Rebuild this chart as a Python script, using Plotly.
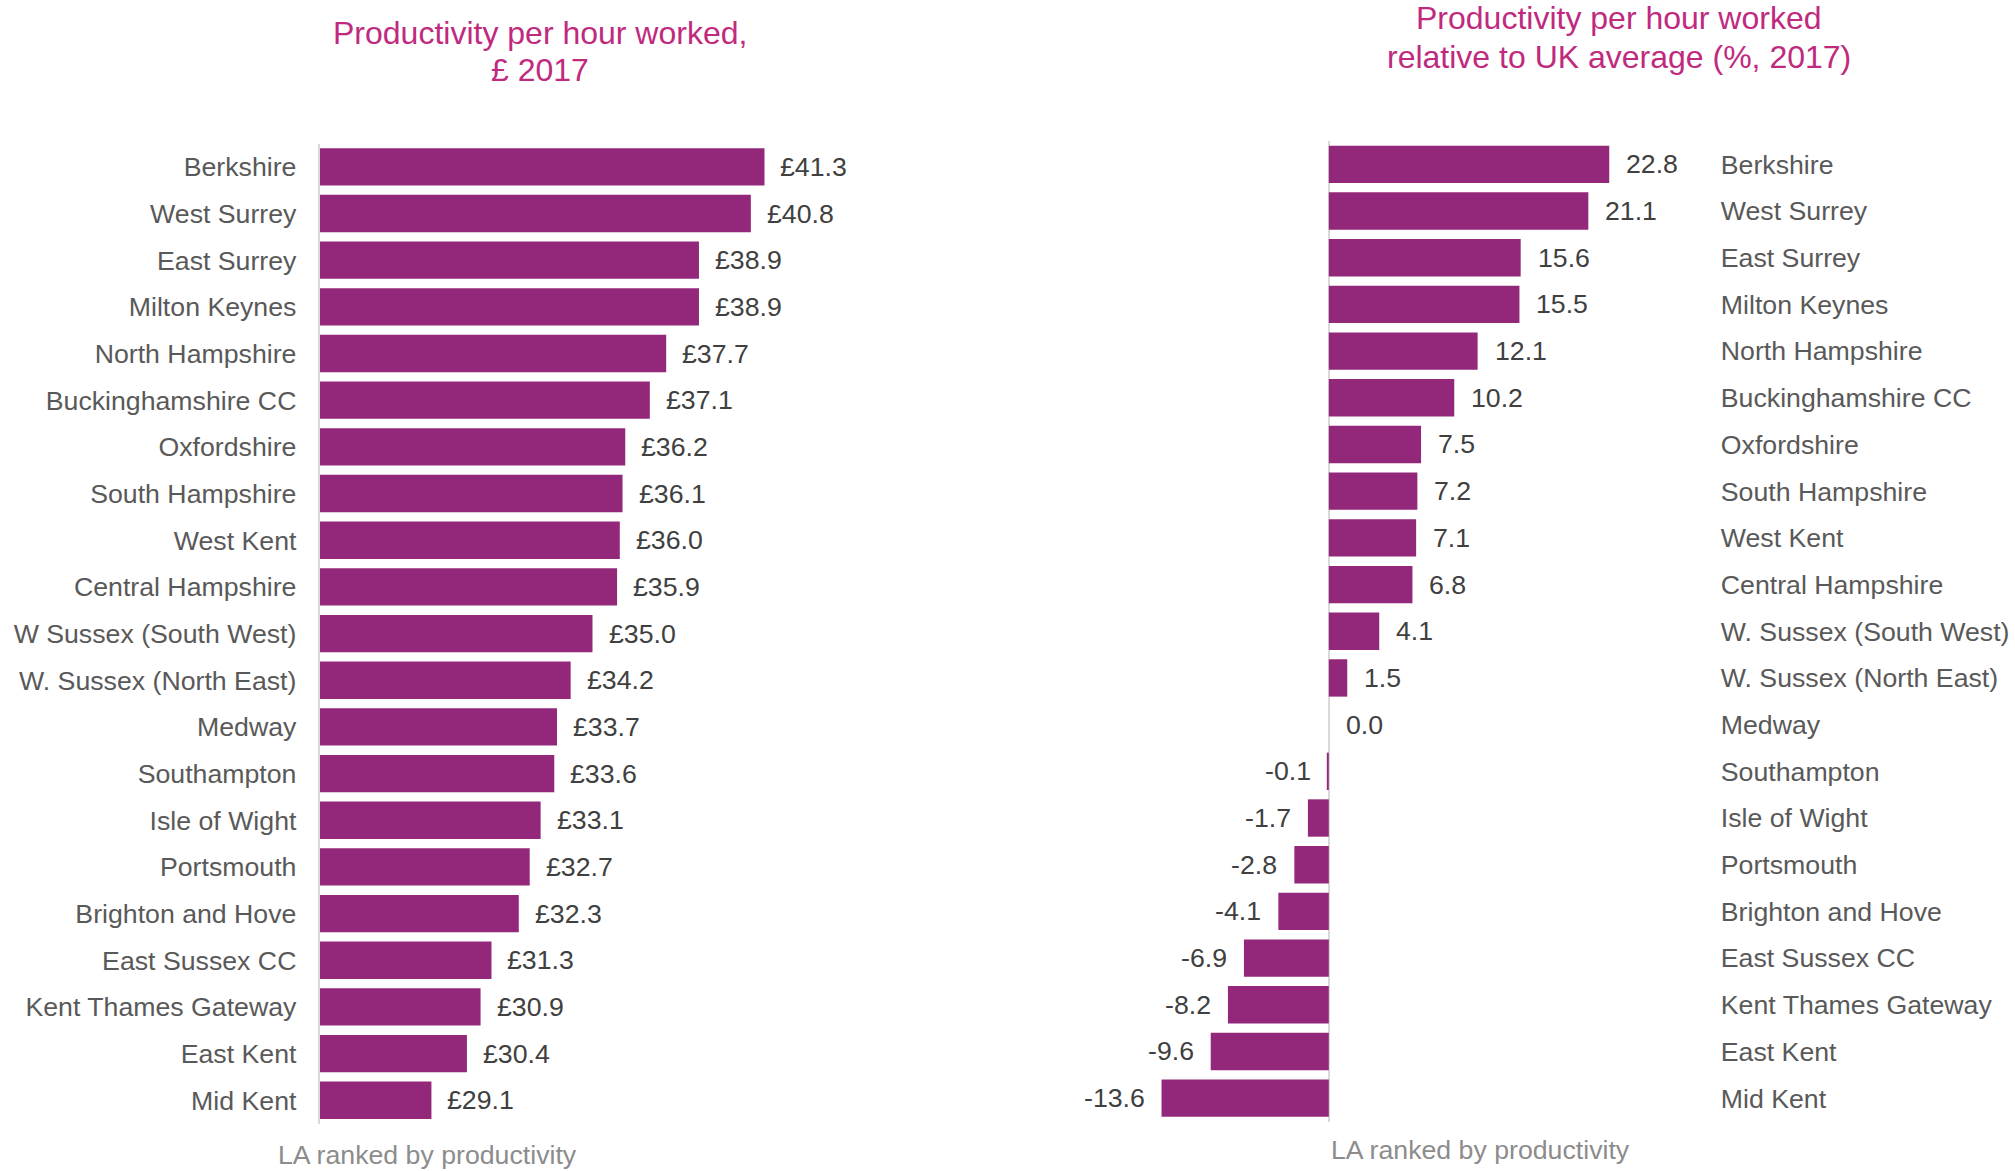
import plotly.graph_objects as go

categories_left = ["Berkshire", "West Surrey", "East Surrey", "Milton Keynes", "North Hampshire",
                   "Buckinghamshire CC", "Oxfordshire", "South Hampshire", "West Kent", "Central Hampshire",
                   "W Sussex (South West)", "W. Sussex (North East)", "Medway", "Southampton", "Isle of Wight",
                   "Portsmouth", "Brighton and Hove", "East Sussex CC", "Kent Thames Gateway", "East Kent", "Mid Kent"]
productivity = [41.3, 40.8, 38.9, 38.9, 37.7, 37.1, 36.2, 36.1, 36.0, 35.9, 35.0, 34.2, 33.7, 33.6, 33.1,
                32.7, 32.3, 31.3, 30.9, 30.4, 29.1]

categories_right = ["Berkshire", "West Surrey", "East Surrey", "Milton Keynes", "North Hampshire",
                    "Buckinghamshire CC", "Oxfordshire", "South Hampshire", "West Kent", "Central Hampshire",
                    "W. Sussex (South West)", "W. Sussex (North East)", "Medway", "Southampton", "Isle of Wight",
                    "Portsmouth", "Brighton and Hove", "East Sussex CC", "Kent Thames Gateway", "East Kent", "Mid Kent"]
relative = [22.8, 21.1, 15.6, 15.5, 12.1, 10.2, 7.5, 7.2, 7.1, 6.8, 4.1, 1.5, 0.0, -0.1, -1.7, -2.8, -4.1,
            -6.9, -8.2, -9.6, -13.6]

title_left = ["Productivity per hour worked,", "£ 2017"]
title_right = ["Productivity per hour worked", "relative to UK average (%, 2017)"]
axis_note = "LA ranked by productivity"

W, H = 2015, 1171
FONT = "Liberation Sans, Arial, sans-serif"
BAR = "#93287A"
TITLE_C = "#BF2A7F"
LABEL_C = "#595959"
VALUE_C = "#404040"
NOTE_C = "#8C8C8C"
LINE_C = "#D9D9D9"
FS = 26.7

def px(x):
    return x / W

def py(y):
    return 1 - y / H

fig = go.Figure()
fig.add_trace(go.Bar(y=categories_left, x=productivity, orientation="h",
                     marker=dict(color=BAR, line=dict(width=0)), xaxis="x", yaxis="y",
                     hoverinfo="x+y"))
fig.add_trace(go.Bar(y=categories_right, x=relative, orientation="h",
                     marker=dict(color=BAR, line=dict(width=0)), xaxis="x2", yaxis="y2",
                     hoverinfo="x+y"))

annotations = []
for c, v in zip(categories_left, productivity):
    annotations.append(dict(x=v, y=c, xref="x", yref="y", text=f"£{v:.1f}", showarrow=False,
                            xanchor="left", xshift=14, font=dict(size=FS, color=VALUE_C, family=FONT)))
for c, v in zip(categories_right, relative):
    annotations.append(dict(x=v, y=c, xref="x2", yref="y2", text=f"{v:.1f}", showarrow=False,
                            xanchor="left" if v >= 0 else "right", xshift=15 if v >= 0 else -15,
                            font=dict(size=FS, color=VALUE_C, family=FONT)))

for txt, yy in zip(title_left, [33, 70]):
    annotations.append(dict(x=px(540), y=py(yy), xref="paper", yref="paper", text=txt, showarrow=False,
                            xanchor="center", yanchor="middle", font=dict(size=32, color=TITLE_C, family=FONT)))
for txt, yy in zip(title_right, [18, 57]):
    annotations.append(dict(x=px(1619), y=py(yy), xref="paper", yref="paper", text=txt, showarrow=False,
                            xanchor="center", yanchor="middle", font=dict(size=32, color=TITLE_C, family=FONT)))

annotations.append(dict(x=px(427), y=py(1155), xref="paper", yref="paper", text=axis_note, showarrow=False,
                        xanchor="center", yanchor="middle", font=dict(size=FS, color=NOTE_C, family=FONT)))
annotations.append(dict(x=px(1329), y=py(1150), xref="paper", yref="paper", text=axis_note, showarrow=False,
                        xanchor="left", yanchor="middle", font=dict(size=FS, color=NOTE_C, family=FONT)))

fig.update_layout(
    width=W, height=H,
    margin=dict(l=0, r=0, t=0, b=0),
    paper_bgcolor="white", plot_bgcolor="white",
    showlegend=False,
    bargap=0.2,
    font=dict(family=FONT, size=FS, color=LABEL_C),
    xaxis=dict(domain=[px(319.5), px(1002)], range=[25, 50], showgrid=False, zeroline=False,
               showticklabels=False, showline=False, fixedrange=True),
    yaxis=dict(domain=[py(1123.6), py(143.5)], autorange="reversed", showgrid=False, showline=True,
               linecolor=LINE_C, linewidth=1.5, ticks="", ticklabelstandoff=16,
               tickfont=dict(size=FS, color=LABEL_C, family=FONT), anchor="x"),
    xaxis2=dict(domain=[px(1082.8), px(1697.8)], range=[-20, 30], showgrid=False, zeroline=True,
                zerolinecolor=LINE_C, zerolinewidth=1.5, showticklabels=False, showline=False,
                anchor="y2"),
    yaxis2=dict(domain=[py(1121.5), py(141)], autorange="reversed", showgrid=False, showline=False,
                side="right", ticks="", ticklabelstandoff=22, anchor="x2",
                tickfont=dict(size=FS, color=LABEL_C, family=FONT)),
    annotations=annotations,
)

fig.write_html("out.html", config={"displayModeBar": False},
               post_script="document.body.style.margin='0';document.body.style.overflow='hidden';")
